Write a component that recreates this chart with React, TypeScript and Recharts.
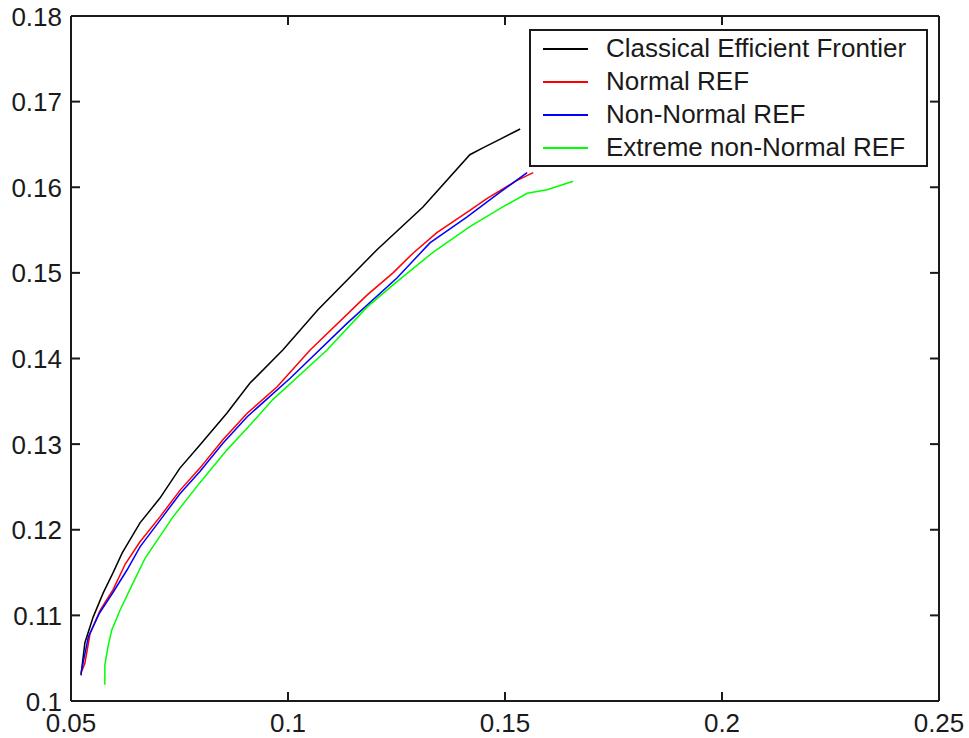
import React from 'react';
import { LineChart, Line, XAxis, YAxis, Legend } from 'recharts';

// risk (x) / return (y) pairs
const classicalRisk = [0.0523, 0.0532, 0.0551, 0.0574, 0.0597, 0.0618, 0.0659, 0.0705, 0.0751, 0.0797, 0.0859, 0.0912, 0.0988, 0.1069, 0.1205, 0.1311, 0.1419, 0.1449, 0.1488, 0.1535];
const classicalReturn = [0.1030, 0.1068, 0.1098, 0.1126, 0.1150, 0.1173, 0.1208, 0.1237, 0.1272, 0.1299, 0.1336, 0.1371, 0.1410, 0.1457, 0.1527, 0.1577, 0.1638, 0.1646, 0.1656, 0.1668];

const normalRisk = [0.0525, 0.0532, 0.0544, 0.0567, 0.0597, 0.0625, 0.0659, 0.0705, 0.0751, 0.0797, 0.0850, 0.0906, 0.0975, 0.1051, 0.1182, 0.1242, 0.1288, 0.1343, 0.1419, 0.1459, 0.1528, 0.1565];
const normalReturn = [0.1035, 0.1044, 0.1079, 0.1106, 0.1130, 0.1160, 0.1186, 0.1215, 0.1246, 0.1272, 0.1305, 0.1336, 0.1367, 0.1410, 0.1474, 0.1500, 0.1523, 0.1547, 0.1573, 0.1587, 0.1608, 0.1617];

const nonNormalRisk = [0.0523, 0.0530, 0.0540, 0.0565, 0.0597, 0.0629, 0.0659, 0.0705, 0.0751, 0.0797, 0.0850, 0.0906, 0.1005, 0.1136, 0.1251, 0.1327, 0.1412, 0.1488, 0.1551];
const nonNormalReturn = [0.1032, 0.1050, 0.1075, 0.1102, 0.1127, 0.1153, 0.1180, 0.1211, 0.1242, 0.1268, 0.1301, 0.1332, 0.1377, 0.1441, 0.1494, 0.1535, 0.1565, 0.1594, 0.1617];

const extremeRisk = [0.0578, 0.0578, 0.0585, 0.0594, 0.0613, 0.0643, 0.0671, 0.0735, 0.0797, 0.0859, 0.0912, 0.0965, 0.1090, 0.1182, 0.1242, 0.1334, 0.1419, 0.1495, 0.1551, 0.1597, 0.1657];
const extremeReturn = [0.1019, 0.1042, 0.1063, 0.1083, 0.1106, 0.1138, 0.1167, 0.1215, 0.1255, 0.1293, 0.1322, 0.1352, 0.1410, 0.1460, 0.1486, 0.1524, 0.1554, 0.1577, 0.1593, 0.1597, 0.1607];

const seriesNames = ['Classical Efficient Frontier', 'Normal REF', 'Non-Normal REF', 'Extreme non-Normal REF'];
const seriesColors = ['#000000', '#ff0000', '#0000ff', '#00ff00'];

const xTicks = [0.05, 0.1, 0.15, 0.2, 0.25];
const yTicks = [0.1, 0.11, 0.12, 0.13, 0.14, 0.15, 0.16, 0.17, 0.18];

const toPoints = (xs: number[], ys: number[]) => xs.map((x, i) => ({ x, y: ys[i] }));

const FONT = '"Liberation Sans", Arial, sans-serif';
const AXIS_COLOR = '#1a1a1a';
const TICK_LEN = 9;
const TICK_W = 2;
const tickStyle = { fontSize: 26, fontFamily: FONT, fill: AXIS_COLOR };
const axisLine = { stroke: AXIS_COLOR, strokeWidth: 2 };

// ticks point inwards, MATLAB style; labels only on bottom and left
const BottomTick = ({ x, y, payload }: any) => (
  <g>
    <rect x={x - TICK_W / 2} y={y - TICK_LEN} width={TICK_W} height={TICK_LEN} fill={AXIS_COLOR} />
    <text x={x} y={y + 31} textAnchor="middle" {...tickStyle}>{String(payload.value)}</text>
  </g>
);

const LeftTick = ({ x, y, payload }: any) => (
  <g>
    <rect x={x} y={y - TICK_W / 2} width={TICK_LEN} height={TICK_W} fill={AXIS_COLOR} />
    <text x={x - 9} y={y + 9.5} textAnchor="end" {...tickStyle}>{String(payload.value)}</text>
  </g>
);

const TopTick = ({ x, y }: any) => (
  <rect x={x - TICK_W / 2} y={y} width={TICK_W} height={TICK_LEN} fill={AXIS_COLOR} />
);

const RightTick = ({ x, y }: any) => (
  <rect x={x - TICK_LEN} y={y - TICK_W / 2} width={TICK_LEN} height={TICK_W} fill={AXIS_COLOR} />
);

// legend drawn in the fixed series order (not sorted)
const LegendBox = () => (
  <div
    style={{
      boxSizing: 'border-box',
      width: 399,
      height: 138,
      border: `2px solid ${AXIS_COLOR}`,
      background: '#fff',
      paddingTop: 1,
      fontFamily: FONT,
      fontSize: 26,
      color: AXIS_COLOR,
    }}
  >
    {seriesNames.map((name, i) => (
      <div key={name} style={{ display: 'flex', alignItems: 'center', height: 33 }}>
        <div style={{ width: 45, height: 2, background: seriesColors[i], marginLeft: 12, marginRight: 18 }} />
        <span style={{ lineHeight: '33px', whiteSpace: 'nowrap' }}>{name}</span>
      </div>
    ))}
  </div>
);

export default function App() {
  const series = [
    toPoints(classicalRisk, classicalReturn),
    toPoints(normalRisk, normalReturn),
    toPoints(nonNormalRisk, nonNormalReturn),
    toPoints(extremeRisk, extremeReturn),
  ];

  return (
    <div style={{ position: 'fixed', left: 0, top: 0, width: 969, height: 738, background: '#fff' }}>
      <LineChart width={969} height={738} margin={{ top: 15, right: 29, bottom: 0, left: 0 }}>
        <XAxis
          dataKey="x"
          type="number"
          domain={[0.05, 0.25]}
          ticks={xTicks}
          interval={0}
          allowDataOverflow
          height={37}
          tickSize={0}
          tickMargin={0}
          tickLine={false}
          tick={<BottomTick />}
          axisLine={axisLine}
        />
        <XAxis
          xAxisId="top"
          orientation="top"
          dataKey="x"
          type="number"
          domain={[0.05, 0.25]}
          ticks={xTicks}
          interval={0}
          allowDataOverflow
          height={1}
          tickSize={0}
          tickMargin={0}
          tickLine={false}
          tick={<TopTick />}
          axisLine={axisLine}
        />
        <YAxis
          type="number"
          domain={[0.1, 0.18]}
          ticks={yTicks}
          interval={0}
          allowDataOverflow
          width={71}
          tickSize={0}
          tickMargin={0}
          tickLine={false}
          tick={<LeftTick />}
          axisLine={axisLine}
        />
        <YAxis
          yAxisId="right"
          orientation="right"
          type="number"
          domain={[0.1, 0.18]}
          ticks={yTicks}
          interval={0}
          allowDataOverflow
          width={1}
          tickSize={0}
          tickMargin={0}
          tickLine={false}
          tick={<RightTick />}
          axisLine={axisLine}
        />
        {series.map((data, i) => (
          <Line
            key={seriesNames[i]}
            data={data}
            dataKey="y"
            name={seriesNames[i]}
            stroke={seriesColors[i]}
            strokeWidth={1.5}
            dot={false}
            isAnimationActive={false}
          />
        ))}
        <Legend
          layout="vertical"
          align="center"
          verticalAlign="middle"
          content={<LegendBox />}
          wrapperStyle={{ left: 529, top: 29, width: 399, height: 138, right: 'auto', bottom: 'auto' }}
        />
      </LineChart>
    </div>
  );
}
